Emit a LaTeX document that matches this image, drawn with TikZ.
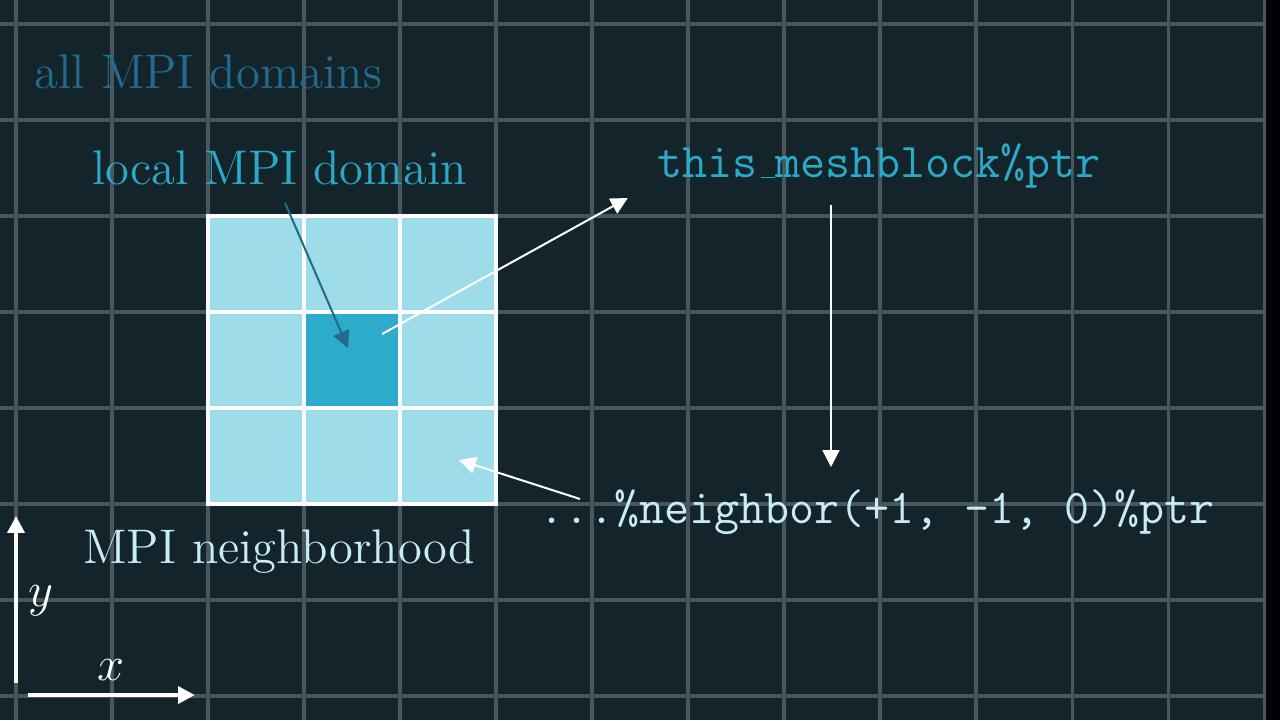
\documentclass[tikz,border=0pt]{standalone}
\usepackage{fontspec}
\usepackage{xcolor}
\usepackage{tikz}
\usetikzlibrary{arrows.meta, calc}

\definecolor{bgc}{RGB}{19,37,43}
\definecolor{gridc}{RGB}{72,87,92}
\definecolor{allc}{RGB}{35,106,143}
\definecolor{localc}{RGB}{43,169,201}
\definecolor{cellc}{RGB}{158,220,234}
\definecolor{homec}{RGB}{44,171,203}
\definecolor{lightc}{RGB}{200,236,244}

\newcommand{\lowbar}{\leavevmode\kern.06em\vbox{\hrule width.3em}}

\tikzstyle{gridline} = [draw=gridc, line width=0.9pt]
\tikzstyle{cell} = [rectangle, draw=white, line width=1pt, fill=cellc, minimum size=1cm, inner sep=0pt]
\tikzstyle{lbl} = [font=\fontsize{14.4}{17}\selectfont, inner sep=0pt]
\tikzstyle{code} = [font=\fontsize{14.4}{17}\selectfont\ttfamily, inner sep=0pt]
\tikzstyle{arrow} = [draw, -{Triangle[length=5pt,width=5pt]}, line width=0.6pt, white]
\tikzstyle{axis} = [draw, -{Triangle[length=5pt,width=5pt]}, line width=1.2pt, white]

\begin{document}
\begin{tikzpicture}
    \useasboundingbox (0,0) rectangle (13.3333,7.5);
    \fill[black] (0,0) rectangle (13.3333,7.5);
    \fill[bgc] (0,0) rectangle (13.19,7.5);

    % background grid
    \foreach \k in {0,...,13}
        \draw[gridline] ({\k+1/6},0) -- ({\k+1/6},7.5);
    \foreach \k in {0,...,7}
        \draw[gridline] (0,\k+0.25) -- (13.19,\k+0.25);

    % MPI neighborhood
    \foreach \i in {0,1,2}
        \foreach \j in {0,1,2} {
            \ifnum\i\j=11 \def\cfill{homec}\else\def\cfill{cellc}\fi
            \node[cell, fill=\cfill] (cell\i\j) at ({2.6667+\i},{2.75+\j}) {};
        }

    % Labels
    \node[lbl, text=allc, anchor=base] (alllbl) at (2.172,6.573) {all MPI domains};
    \node[lbl, text=localc, anchor=base] (locallbl) at (2.911,5.583) {local MPI domain};
    \node[lbl, text=lightc, anchor=base] (nbhdlbl) at (2.906,1.635) {MPI neighborhood};
    \node[code, text=localc, anchor=base] (meshlbl) at (9.156,5.646) {this\lowbar meshblock\%ptr};
    \node[code, text=lightc, anchor=base] (nbrlbl) at (9.135,2.052) {...\%neighbor(+1, -1, 0)\%ptr};

    % arrow ends
    \coordinate (localstart) at (2.97,5.385);
    \coordinate (localtip) at (3.625,3.875);
    \coordinate (meshstart) at (3.979,4.02);
    \coordinate (meshtip) at (6.54,5.4375);
    \coordinate (downstart) at (8.656,5.365);
    \coordinate (downtip) at (8.656,2.635);
    \coordinate (nbrstart) at (6.042,2.302);
    \coordinate (nbrtip) at (4.78,2.708);

    \draw[arrow, allc] (localstart) -- (localtip);
    \draw[arrow] (meshstart) -- (meshtip);
    \draw[arrow] (downstart) -- (downtip);
    \draw[arrow] (nbrstart) -- (nbrtip);

    % axes
    \coordinate (ybot) at (0.1667,0.385);
    \coordinate (ytop) at (0.1667,2.125);
    \coordinate (xleft) at (0.29,0.26);
    \coordinate (xright) at (2.03,0.26);
    \draw[axis] (ybot) -- (ytop);
    \draw[axis] (xleft) -- (xright);
    \node[lbl, text=white] (ylbl) at (0.43,1.24) {$y$};
    \node[lbl, text=white] (xlbl) at (1.156,0.52) {$x$};
\end{tikzpicture}
\end{document}
